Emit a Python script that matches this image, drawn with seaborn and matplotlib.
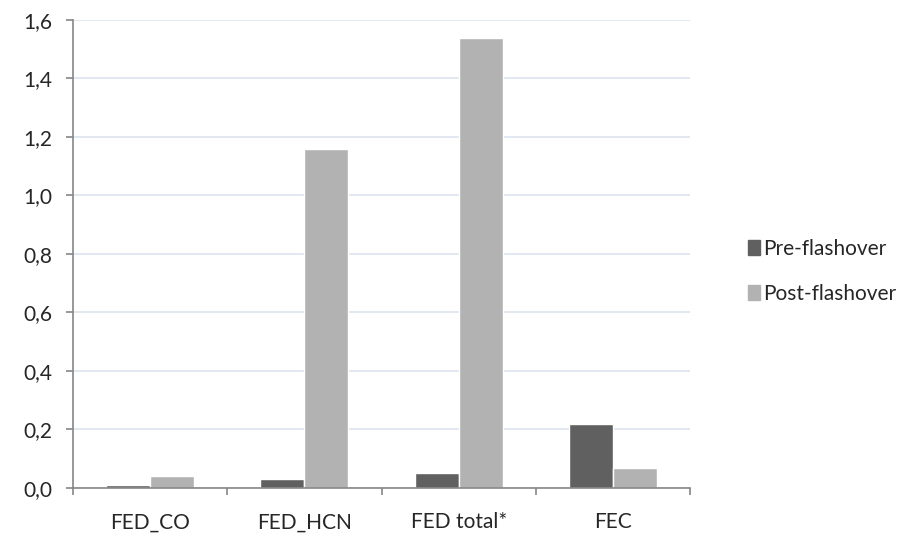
import pandas as pd
import seaborn as sns
import matplotlib.pyplot as plt
from matplotlib.ticker import FuncFormatter, FixedLocator
from matplotlib.patches import Patch

categories = ['FED_CO', 'FED_HCN', 'FED total*', 'FEC']
pre_flashover = [0.01, 0.03, 0.05, 0.22]
post_flashover = [0.04, 1.16, 1.54, 0.07]
series = ['Pre-flashover', 'Post-flashover']
y_ticks = [0.0, 0.2, 0.4, 0.6, 0.8, 1.0, 1.2, 1.4, 1.6]

sns.set_style("white")
plt.rcParams['font.family'] = ['Lato', 'DejaVu Sans']

df = pd.DataFrame({
    'cat': categories * 2,
    'val': pre_flashover + post_flashover,
    'serie': [series[0]] * 4 + [series[1]] * 4,
})

colors = ['#606060', '#b2b2b2']

fig = plt.figure(figsize=(9.05, 5.36), dpi=100)
ax = fig.add_axes([0.0807, 0.0896, 0.6818, 0.8731])
sns.barplot(data=df, x='cat', y='val', hue='serie', palette=colors,
            width=0.57, saturation=1, ax=ax, legend=False)

ax.set_ylim(0, 1.6)
ax.set_xlim(-0.5, 3.5)
ax.set_yticks(y_ticks)
ax.yaxis.set_major_formatter(FuncFormatter(lambda v, p: f'{v:.1f}'.replace('.', ',')))
ax.grid(axis='y', color='#dce4ef', linewidth=1.2)
ax.set_axisbelow(True)
ax.set_xlabel('')
ax.set_ylabel('')

for s in ['top', 'right']:
    ax.spines[s].set_visible(False)
for s in ['left', 'bottom']:
    ax.spines[s].set_color('#868686')
    ax.spines[s].set_linewidth(1.2)

ax.tick_params(axis='y', which='major', left=True, length=5, color='#868686',
               width=1.2, labelsize=15, pad=10)
ax.tick_params(axis='x', which='major', bottom=False, labelsize=15, pad=14)
ax.xaxis.set_minor_locator(FixedLocator([-0.5, 0.5, 1.5, 2.5, 3.5]))
ax.tick_params(axis='x', which='minor', bottom=True, length=5, color='#868686', width=1.2)

handles = [Patch(color=c) for c in colors]
fig.legend(handles, series, loc='center left', bbox_to_anchor=(0.806, 0.494),
           frameon=False, fontsize=15, handlelength=0.55, handleheight=0.7,
           handletextpad=0.15, labelspacing=1.2)

fig.savefig('out.png', dpi=100)
